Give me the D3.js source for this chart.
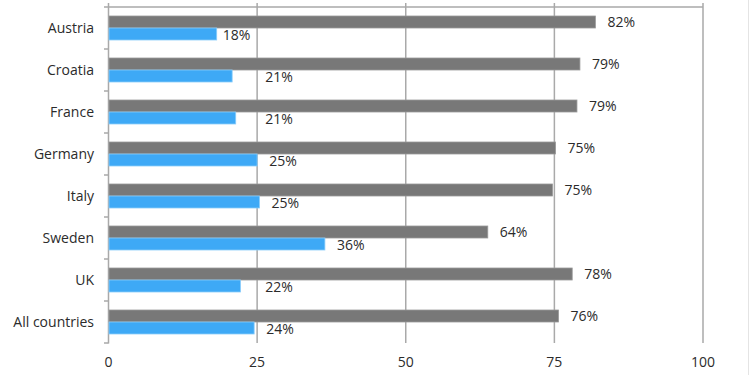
<!DOCTYPE html>
<html><head><meta charset="utf-8">
<script src="https://cdn.jsdelivr.net/npm/d3@7"></script>
<style>
html,body{margin:0;padding:0;background:#fff;}
svg{display:block;}
text{font-family:"Open Sans",sans-serif;fill:#2b2b2b;}
</style></head>
<body>
<script>
const categories = ["Austria","Croatia","France","Germany","Italy","Sweden","UK","All countries"];
const grayValues = [81.9,79.3,78.8,75.2,74.7,63.8,78.0,75.7];
const blueValues = [18.2,20.8,21.4,25.0,25.4,36.4,22.2,24.5];
const grayLabels = ["82%","79%","79%","75%","75%","64%","78%","76%"];
const blueLabels = ["18%","21%","21%","25%","25%","36%","22%","24%"];
const xTicks = [0,25,50,75,100];

const W = 750, H = 375;
const svg = d3.select("body").append("svg").attr("width",W).attr("height",H);

const x = d3.scaleLinear().domain([0,100]).range([108.5,703]);
const y = d3.scaleBand().domain(categories).range([7,343]).paddingInner(0).paddingOuter(0);
const gridColor = "#a9a9a9";
const barH = 12;
const fs = 14;

// right faint edge line
svg.append("line").attr("x1",748.5).attr("x2",748.5).attr("y1",0).attr("y2",H)
  .attr("stroke","#e4e4e4").attr("stroke-width",1);

// top border
svg.append("line").attr("x1",x(0)).attr("x2",x(100)).attr("y1",7).attr("y2",7)
  .attr("stroke",gridColor).attr("stroke-width",1.5);

// vertical gridlines
svg.selectAll("line.grid").data(xTicks.slice(1)).enter().append("line")
  .attr("class","grid")
  .attr("x1",d=>x(d)).attr("x2",d=>x(d)).attr("y1",3).attr("y2",343)
  .attr("stroke",gridColor).attr("stroke-width",1.5);

// left axis line
svg.append("line").attr("x1",x(0)).attr("x2",x(0)).attr("y1",3).attr("y2",343.5)
  .attr("stroke",gridColor).attr("stroke-width",1.5);
// left ticks at band boundaries
const bounds = categories.map(c=>y(c)).concat([y.range()[1]]);
svg.selectAll("line.ltick").data(bounds).enter().append("line")
  .attr("x1",x(0)-4.5).attr("x2",x(0)).attr("y1",d=>d).attr("y2",d=>d)
  .attr("stroke",gridColor).attr("stroke-width",1.5);

// x tick labels
svg.selectAll("text.xt").data(xTicks).enter().append("text")
  .attr("x",d=>x(d)).attr("y",362).attr("dy","0.35em")
  .attr("text-anchor","middle").attr("font-size",fs).text(d=>d);

// category labels
svg.selectAll("text.cat").data(categories).enter().append("text")
  .attr("x",94).attr("y",d=>y(d)+y.bandwidth()/2).attr("dy","0.35em")
  .attr("text-anchor","end").attr("font-size",fs).text(d=>d);

const pad = (y.bandwidth()-2*barH)/2;

// gray bars
svg.selectAll("rect.gray").data(categories).enter().append("rect")
  .attr("x",x(0)+0.5).attr("y",d=>y(d)+pad)
  .attr("width",(d,i)=>x(grayValues[i])-x(0)-0.5).attr("height",barH)
  .attr("fill","#787878").attr("stroke","#9a9a9a").attr("stroke-width",0.8);

// blue bars
svg.selectAll("rect.blue").data(categories).enter().append("rect")
  .attr("x",x(0)+0.5).attr("y",d=>y(d)+pad+barH)
  .attr("width",(d,i)=>x(blueValues[i])-x(0)-0.5).attr("height",barH)
  .attr("fill","#3ea9f6").attr("stroke","#8acdfb").attr("stroke-width",0.8);

// gray labels
svg.selectAll("text.gl").data(categories).enter().append("text")
  .attr("x",(d,i)=>x(grayValues[i])+12).attr("y",d=>y(d)+pad+barH/2).attr("dy","0.35em")
  .attr("font-size",fs).text((d,i)=>grayLabels[i]);

// blue labels (avoid overlapping the 25 gridline)
svg.selectAll("text.bl").data(categories).enter().append("text")
  .attr("y",d=>y(d)+pad+barH*1.5+1).attr("dy","0.35em")
  .attr("font-size",fs).text((d,i)=>blueLabels[i])
  .each(function(d,i){
    const w = this.getComputedTextLength();
    const end = x(blueValues[i]);
    let sx = end + 6;
    if (sx + w > x(25) - 2) sx = Math.max(end + 12, x(25) + 8);
    d3.select(this).attr("x", sx);
  });
</script>
</body></html>
